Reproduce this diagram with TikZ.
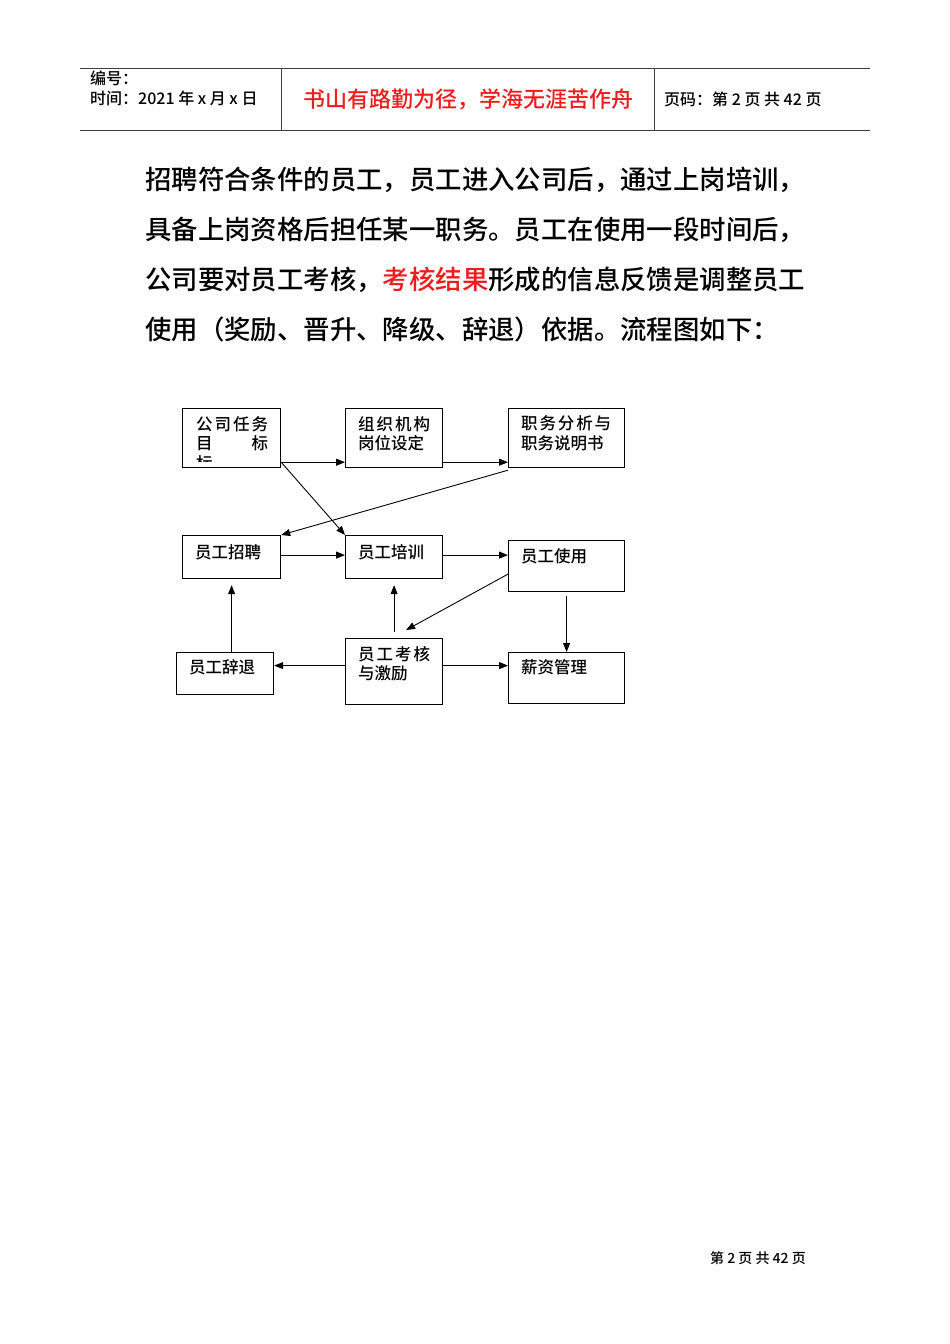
\documentclass[tikz,border=0pt]{standalone}
\usepackage{fontspec}
\IfFontExistsTF{Noto Sans CJK SC Medium}
    {\setmainfont{Noto Sans CJK SC Medium}}
    {\setmainfont{Noto Sans CJK SC}}
\usepackage{xcolor}
\usetikzlibrary{calc,positioning,arrows.meta}
\definecolor{hred}{HTML}{EE1C1C}
\colorlet{rulecolor}{black!75}
\tikzstyle{flowbox} =[
    draw=black,
    line width=1.2pt,
    rectangle,
    anchor=north west,
    inner sep=0pt
    ]
\tikzstyle{boxtext} =[
    anchor=west,
    inner sep=0pt,
    align=left,
    font=\fontsize{16.5}{19.5}\selectfont
    ]
\tikzstyle{flowarrow} =[
    draw=black,
    line width=0.9pt,
    -{Triangle[length=9pt,width=7pt]}
    ]
\tikzstyle{headtext} =[
    inner sep=0pt,
    font=\fontsize{16}{19}\selectfont
    ]

\begin{document}
\begin{tikzpicture}[x=1pt, y=-1pt]
\useasboundingbox (0,0) rectangle (950,1344);
% header
\draw[rulecolor, line width=0.8pt] (80,68) -- (870,68) (80,130) -- (870,130)
    (281,68) -- (281,130) (654,68) -- (654,130);
\node[headtext, anchor=west] (num) at (90,78) {编号：};
\node[headtext, anchor=west] (date) at (90,98) {时间：2021 年 x 月 x 日};
\node[headtext, text=hred, font=\fontsize{22}{24}\selectfont] (motto) at (468,99) {书山有路勤为径，学海无涯苦作舟};
\node[headtext, anchor=west] (page) at (664,99) {页码：第 2 页 共 42 页};

% text
\node[anchor=west, inner sep=0pt, align=left, font=\fontsize{26.4}{50}\selectfont] (para) at (145,255) {%
招聘符合条件的员工，员工进入公司后，通过上岗培训，\\
具备上岗资格后担任某一职务。员工在使用一段时间后，\\
公司要对员工考核，{\color{hred}考核结果}形成的信息反馈是调整员工\\
使用（奖励、晋升、降级、辞退）依据。流程图如下：};

% boxes
\node[flowbox, minimum width=98pt, minimum height=59pt] (goal) at (182,408) {};
\node[flowbox, minimum width=97pt, minimum height=59pt] (org) at (345,408) {};
\node[flowbox, minimum width=116pt, minimum height=59pt] (job) at (508,408) {};
\node[flowbox, minimum width=98pt, minimum height=43pt] (recruit) at (182,535) {};
\node[flowbox, minimum width=97pt, minimum height=43pt] (train) at (345,535) {};
\node[flowbox, minimum width=116pt, minimum height=51pt] (use) at (508,540) {};
\node[flowbox, minimum width=97pt, minimum height=42pt] (dismiss) at (176,652) {};
\node[flowbox, minimum width=97pt, minimum height=66pt] (assess) at (345,638) {};
\node[flowbox, minimum width=116pt, minimum height=51pt] (pay) at (508,652) {};

\begin{scope}
\clip (183,409) rectangle (279,461);
\node[boxtext] (goaltext) at ($(goal.north west)+(14,35.5)$)
    {\makebox[72pt][s]{公\hfil 司\hfil 任\hfil 务}\\\makebox[72pt][s]{目\hfil 标}\\标};
\end{scope}
\node[boxtext] (orgtext) at ($(org.north west)+(13,25.5)$)
    {\makebox[72pt][s]{组\hfil 织\hfil 机\hfil 构}\\岗位设定};
\node[boxtext] (jobtext) at ($(job.north west)+(13,25.5)$)
    {\makebox[90pt][s]{职\hfil 务\hfil 分\hfil 析\hfil 与}\\职务说明书};
\node[boxtext] (recruittext) at ($(recruit.north west)+(13,17)$) {员工招聘};
\node[boxtext] (traintext) at ($(train.north west)+(13,17)$) {员工培训};
\node[boxtext] (usetext) at ($(use.north west)+(13,16)$) {员工使用};
\node[boxtext] (dismisstext) at ($(dismiss.north west)+(13,15)$) {员工辞退};
\node[boxtext] (assesstext) at ($(assess.north west)+(13,25.5)$)
    {\makebox[72pt][s]{员\hfil 工\hfil 考\hfil 核}\\与激励};
\node[boxtext] (paytext) at ($(pay.north west)+(13,15)$) {薪资管理};

% connectors
\draw[flowarrow] ([yshift=6pt]goal.south east) -- ([yshift=6pt]org.south west);
\draw[flowarrow] ([yshift=6pt]org.south east) -- ([yshift=6pt]job.south west);
\draw[flowarrow] ([yshift=6pt]goal.south east) -- (train.north west);
\draw[flowarrow] ([yshift=-2pt]job.south west) -- (recruit.north east);
\draw[flowarrow] ([yshift=2pt]recruit.east) -- ([yshift=2pt]train.west);
\draw[flowarrow] ([yshift=2pt]train.east) -- ([yshift=2pt]train.east -| use.west);
\coordinate (usein) at ([shift={(12pt,8pt)}]assess.north);
\draw[flowarrow] ([yshift=-8pt]use.west) -- (usein);
\draw[flowarrow] ([yshift=6pt]assess.north) -- ([yshift=-6pt]train.south);
\draw[flowarrow] (recruit.south |- dismiss.north) -- ([yshift=-6pt]recruit.south);
\draw[flowarrow] ([yshift=6pt]assess.west) -- ([yshift=6pt]assess.west -| dismiss.east);
\draw[flowarrow] ([yshift=6pt]assess.east) -- ([yshift=6pt]assess.east -| pay.west);
\draw[flowarrow] ([yshift=-4pt]use.south) -- (pay.north);

% footer
\node[headtext, font=\fontsize{14}{16}\selectfont] (foot) at (758,1258) {第 2 页 共 42 页};
\end{tikzpicture}
\end{document}
